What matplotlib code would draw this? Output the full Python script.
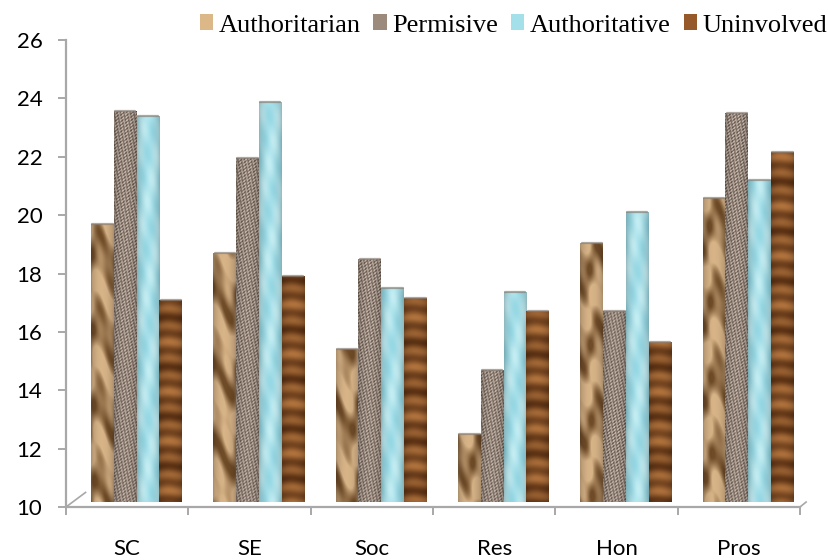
import numpy as np
import matplotlib
matplotlib.use("Agg")
import matplotlib.pyplot as plt
from matplotlib.patches import Patch

categories = ["SC", "SE", "Soc", "Res", "Hon", "Pros"]
series_names = ["Authoritarian", "Permisive", "Authoritative", "Uninvolved"]
authoritarian = [19.7, 18.7, 15.4, 12.5, 19.05, 20.6]
permisive = [23.57, 21.96, 18.5, 14.7, 16.7, 23.5]
authoritative = [23.4, 23.87, 17.5, 17.37, 20.1, 21.2]
uninvolved = [17.1, 17.9, 17.16, 16.7, 15.65, 22.16]
y_ticks = [10, 12, 14, 16, 18, 20, 22, 24, 26]
swatch_colors = ["#dcb888", "#9c8a7c", "#a4e0ea", "#96592a"]

W, H = 829, 560
AX_L, AX_R, AX_T, AX_B = 66, 800, 40, 507
AXIS_GRAY = "#a8a8a8"


def make_texture(kind, shift=0, px_w=23, px_h=467):
    # pseudo-textures for the picture-filled bars, made of plain sine waves
    x, y = np.meshgrid(np.arange(px_w), np.arange(px_h) + shift * 37)
    if kind == 0:  # wrinkled tan
        a = np.sin(y * 0.08 + 1.4 * np.sin(x * 0.22 + shift)) + 0.5 * np.sin(y * 0.17 - x * 0.3)
        t = np.clip((a + 1.3) / 1.9, 0, 1)[..., None]
        rgb = (1 - t) * np.array([112, 76, 40]) + t * np.array([216, 180, 136])
    elif kind == 1:  # speckled grey
        a = np.sin(x * 1.37 + y * 0.71) * np.sin(x * 0.53 - y * 1.13) + 0.5 * np.sin(x * 2.1 + y * 1.9)
        t = np.clip((a + 1) / 2, 0, 1)[..., None]
        rgb = (1 - t) * np.array([104, 88, 78]) + t * np.array([204, 190, 178])
    elif kind == 2:  # pale cyan
        a = np.sin(y * 0.07 + x * 0.3) + 0.5 * np.sin(y * 0.19 - x * 0.4)
        t = np.clip((a + 1.5) / 3, 0, 1)[..., None]
        rgb = (1 - t) * np.array([150, 216, 228]) + t * np.array([196, 238, 244])
    else:  # banded brown
        a = np.sin(y * 0.38 + 0.3 * np.sin(x * 0.2)) + 0.5 * np.sin(y * 0.13)
        t = np.clip((a + 1.5) / 3, 0, 1)[..., None]
        rgb = (1 - t) * np.array([92, 50, 20]) + t * np.array([178, 116, 62])
    # darker sides so the bars read as rounded columns
    shade = 0.76 + 0.24 * np.sin(np.pi * (x + 0.5) / px_w) ** 0.6
    return np.clip(rgb * shade[..., None], 0, 255).astype(np.uint8)


fig = plt.figure(figsize=(W / 100, H / 100), dpi=100)
ax = fig.add_axes([AX_L / W, 1 - AX_B / H, (AX_R - AX_L) / W, (AX_B - AX_T) / H])
ax.set_xlim(0, 6)
ax.set_ylim(10, 26)

values = [authoritarian, permisive, authoritative, uninvolved]
x_pos = np.arange(len(categories))
bar_w = 0.186
group_start = 0.205
base = 10.18

for s, vals in enumerate(values):
    for i, v in enumerate(vals):
        left = x_pos[i] + group_start + s * bar_w
        bar = ax.bar(left, v - base, bar_w, bottom=base, align="edge",
                     color="none", edgecolor="none", zorder=3)[0]
        img = ax.imshow(make_texture(s, i), extent=(left, left + bar_w, 10, 26), aspect="auto",
                        interpolation="bilinear", zorder=2 + s * 0.1)
        img.set_clip_path(bar)
        ax.plot([left + 0.01, left + bar_w - 0.01], [v, v], color="#8a8078", alpha=0.7, lw=1.6,
                solid_capstyle="round", zorder=3)

ax.set_xlim(0, 6)
ax.set_ylim(10, 26)

for side in ["top", "right"]:
    ax.spines[side].set_visible(False)
for side in ["left", "bottom"]:
    ax.spines[side].set_color(AXIS_GRAY)
    ax.spines[side].set_linewidth(1.6)

ax.set_yticks(y_ticks)
ax.set_xticks(np.arange(7))
ax.set_xticklabels([])
ax.set_xticks(x_pos + 0.5, categories, minor=True)
ax.tick_params(axis="x", which="major", length=6, width=1.4, color=AXIS_GRAY)
ax.tick_params(axis="x", which="minor", length=0, pad=23)
ax.tick_params(axis="y", length=6, width=1.4, color=AXIS_GRAY, pad=11)
for lab in ax.get_yticklabels() + ax.get_xticklabels(minor=True):
    lab.set_fontfamily("Lato")
    lab.set_fontsize(16)
    lab.set_color("black")

# floor edges of the 3D box
ax.plot([0, 0.16], [10, 10.5], color=AXIS_GRAY, lw=1.2, clip_on=False, zorder=1)
ax.plot([6, 6.05], [10, 10.17], color=AXIS_GRAY, lw=1.2, clip_on=False, zorder=1)

handles = [Patch(facecolor=c, edgecolor="none") for c in swatch_colors]
leg = fig.legend(handles, series_names, loc="upper right", bbox_to_anchor=(1.01, 0.993), ncol=4,
                 frameon=False, prop={"family": "Liberation Serif", "size": 19},
                 handlelength=0.5, handleheight=0.55, handletextpad=0.2,
                 columnspacing=0.5, borderaxespad=0.2, borderpad=0.2)

fig.savefig("out.png", dpi=100)
plt.close()
